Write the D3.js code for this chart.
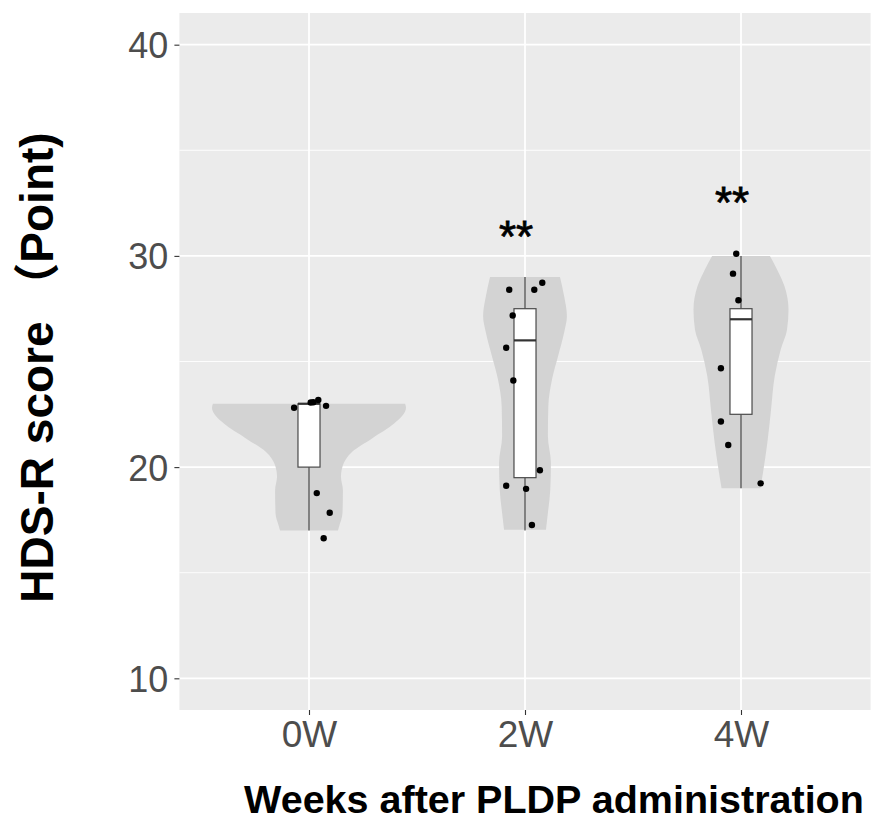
<!DOCTYPE html>
<html>
<head>
<meta charset="utf-8">
<script src="https://cdn.jsdelivr.net/npm/d3@7"></script>
<style>
  body { margin: 0; background: #ffffff; }
  .tick-text { font-family: "Liberation Sans", Arial, sans-serif; fill: #4d4d4d; }
  .axis-title { font-family: "Liberation Sans", Arial, "Noto Sans CJK JP", sans-serif; font-weight: bold; fill: #000; }
</style>
</head>
<body>
<div id="chart"></div>
<script>
// categories and axis
const weeks = ['0W', '2W', '4W'];
const yTicks = [10, 20, 30, 40];
const yMinorTicks = [15, 25, 35];
const yLabel = 'HDS-R score \uFF08Point)';
const xLabel = 'Weeks after PLDP administration';

// violin outlines: [score, half width as share of category step]
const violin0W = [[17.0, 0.134], [17.18, 0.139], [17.81, 0.155], [18.91, 0.157], [19.54, 0.148], [20.09, 0.157],
  [20.72, 0.199], [21.36, 0.292], [22.06, 0.394], [22.81, 0.449], [23.0, 0.445]];
const violin2W = [[17.04, 0.097], [17.83, 0.106], [18.93, 0.117], [20.2, 0.120], [21.46, 0.106], [22.88, 0.108],
  [24.15, 0.125], [25.25, 0.153], [26.36, 0.181], [27.15, 0.194], [28.1, 0.181], [29.0, 0.162]];
const violin4W = [[19.0, 0.090], [19.88, 0.104], [21.15, 0.122], [22.7, 0.139], [24.3, 0.156], [25.57, 0.184],
  [26.5, 0.213], [27.46, 0.220], [28.57, 0.201], [29.36, 0.167], [30.0, 0.134]];

// box stats: [lower whisker, q1, median, q3, upper whisker]
const box0W = [17, 20, 23, 23, 23];
const box2W = [17, 19.5, 26, 27.5, 29];
const box4W = [19, 22.5, 27, 27.5, 30];

// jittered points: [offset as share of step, score]
const points0W = [[-0.069, 22.81], [0.008, 23.06], [0.020, 23.07], [0.043, 23.18], [0.079, 22.9],
  [0.036, 18.77], [0.096, 17.84], [0.068, 16.63]];
const points2W = [[-0.073, 28.4], [0.043, 28.4], [0.080, 28.73], [-0.057, 27.18], [-0.087, 25.65],
  [-0.054, 24.1], [0.069, 19.85], [-0.087, 19.12], [0.005, 18.97], [0.032, 17.26]];
const points4W = [[-0.022, 30.1], [-0.037, 29.16], [-0.012, 27.9], [-0.093, 24.68], [-0.093, 22.16],
  [-0.059, 21.05], [0.091, 19.23]];

// significance marks
const sigLabels = ['', '**', '**'];
const sigLevel = [null, 31.35, 32.96];

const groups = weeks.map((w, i) => ({
  week: w,
  violin: [violin0W, violin2W, violin4W][i],
  box: [box0W, box2W, box4W][i],
  points: [points0W, points2W, points4W][i],
  sig: sigLabels[i],
  sigY: sigLevel[i]
}));

const W = 876, H = 822;
const panel = {left: 179.4, top: 13, right: 870.6, bottom: 710};

const svg = d3.select('#chart')
  .append('svg')
    .attr('width', W)
    .attr('height', H);

// scales
const xScale = d3.scalePoint()
  .domain(weeks)
  .range([panel.left, panel.right])
  .padding(0.6);
const step = xScale.step();

const yScale = d3.scaleLinear()
  .domain([8.5, 41.5])
  .range([panel.bottom, panel.top]);

// panel background
svg.append('rect')
  .attr('x', panel.left)
  .attr('y', panel.top)
  .attr('width', panel.right - panel.left)
  .attr('height', panel.bottom - panel.top)
  .attr('fill', '#ebebeb');

// grid
svg.append('g')
  .selectAll('line')
  .data(yMinorTicks)
  .enter().append('line')
    .attr('x1', panel.left).attr('x2', panel.right)
    .attr('y1', d => yScale(d)).attr('y2', d => yScale(d))
    .attr('stroke', '#fff').attr('stroke-width', 0.9);

svg.append('g')
  .selectAll('line')
  .data(yTicks)
  .enter().append('line')
    .attr('x1', panel.left).attr('x2', panel.right)
    .attr('y1', d => yScale(d)).attr('y2', d => yScale(d))
    .attr('stroke', '#fff').attr('stroke-width', 1.8);

svg.append('g')
  .selectAll('line')
  .data(weeks)
  .enter().append('line')
    .attr('x1', d => xScale(d)).attr('x2', d => xScale(d))
    .attr('y1', panel.top).attr('y2', panel.bottom)
    .attr('stroke', '#fff').attr('stroke-width', 1.8);

// violins
const violinArea = (cx) => d3.area()
  .y(d => yScale(d[0]))
  .x0(d => cx - d[1] * step)
  .x1(d => cx + d[1] * step)
  .curve(d3.curveMonotoneY);

svg.append('g')
  .selectAll('path')
  .data(groups)
  .enter().append('path')
    .attr('d', g => violinArea(xScale(g.week))(g.violin))
    .attr('fill', '#d3d3d3');

// boxplots
const boxHalf = 0.051 * step;
const boxes = svg.append('g')
  .selectAll('g')
  .data(groups)
  .enter().append('g');

boxes.append('line')
  .attr('x1', g => xScale(g.week)).attr('x2', g => xScale(g.week))
  .attr('y1', g => yScale(g.box[0])).attr('y2', g => yScale(g.box[1]))
  .attr('stroke', '#4a4a4a').attr('stroke-width', 1.2);

boxes.append('line')
  .attr('x1', g => xScale(g.week)).attr('x2', g => xScale(g.week))
  .attr('y1', g => yScale(g.box[3])).attr('y2', g => yScale(g.box[4]))
  .attr('stroke', '#4a4a4a').attr('stroke-width', 1.2);

boxes.append('rect')
  .attr('x', g => xScale(g.week) - boxHalf)
  .attr('y', g => yScale(g.box[3]))
  .attr('width', boxHalf * 2)
  .attr('height', g => yScale(g.box[1]) - yScale(g.box[3]))
  .attr('fill', '#fff')
  .attr('stroke', '#4a4a4a').attr('stroke-width', 1.2);

boxes.append('line')
  .attr('x1', g => xScale(g.week) - boxHalf).attr('x2', g => xScale(g.week) + boxHalf)
  .attr('y1', g => yScale(g.box[2])).attr('y2', g => yScale(g.box[2]))
  .attr('stroke', '#333').attr('stroke-width', 2.2);

// points
svg.append('g')
  .selectAll('g')
  .data(groups)
  .enter().append('g')
  .selectAll('circle')
  .data(g => g.points.map(p => ({cx: xScale(g.week) + p[0] * step, v: p[1]})))
  .enter().append('circle')
    .attr('cx', d => d.cx)
    .attr('cy', d => yScale(d.v))
    .attr('r', 3.2)
    .attr('fill', '#000');

// significance stars
const starSize = 44;
svg.append('g')
  .selectAll('text')
  .data(groups.filter(g => g.sig))
  .enter().append('text')
    .attr('x', g => xScale(g.week) - 9)
    .attr('y', g => yScale(g.sigY) + 0.57 * starSize)
    .attr('text-anchor', 'middle')
    .style('font-family', '"Liberation Sans", Arial, sans-serif')
    .style('font-size', starSize + 'px')
    .attr('fill', '#000')
    .attr('stroke', '#000')
    .attr('stroke-width', 0.8)
    .text(g => g.sig);

// y axis
const yAxis = d3.axisLeft(yScale).tickValues(yTicks).tickSize(5).tickPadding(6);
const yAxisG = svg.append('g')
  .attr('transform', `translate(${panel.left},0)`)
  .call(yAxis);
yAxisG.select('.domain').remove();
yAxisG.selectAll('line').attr('stroke', '#333').attr('stroke-width', 1.1);
yAxisG.selectAll('text')
  .attr('class', 'tick-text')
  .attr('dy', '0.36em')
  .style('font-size', '36px');

// x axis
const xAxis = d3.axisBottom(xScale).tickSize(5).tickPadding(6);
const xAxisG = svg.append('g')
  .attr('transform', `translate(0,${panel.bottom})`)
  .call(xAxis);
xAxisG.select('.domain').remove();
xAxisG.selectAll('line').attr('stroke', '#333').attr('stroke-width', 1.1);
xAxisG.selectAll('text')
  .attr('class', 'tick-text')
  .attr('dy', '0.71em')
  .style('font-size', '37px');

// axis titles
svg.append('text')
  .attr('class', 'axis-title')
  .attr('text-anchor', 'middle')
  .attr('transform', `translate(53, 367.5) rotate(-90)`)
  .style('font-size', '46px')
  .text(yLabel);

svg.append('text')
  .attr('class', 'axis-title')
  .attr('text-anchor', 'middle')
  .attr('x', 554)
  .attr('y', 813)
  .style('font-size', '39.5px')
  .text(xLabel);
</script>
</body>
</html>
